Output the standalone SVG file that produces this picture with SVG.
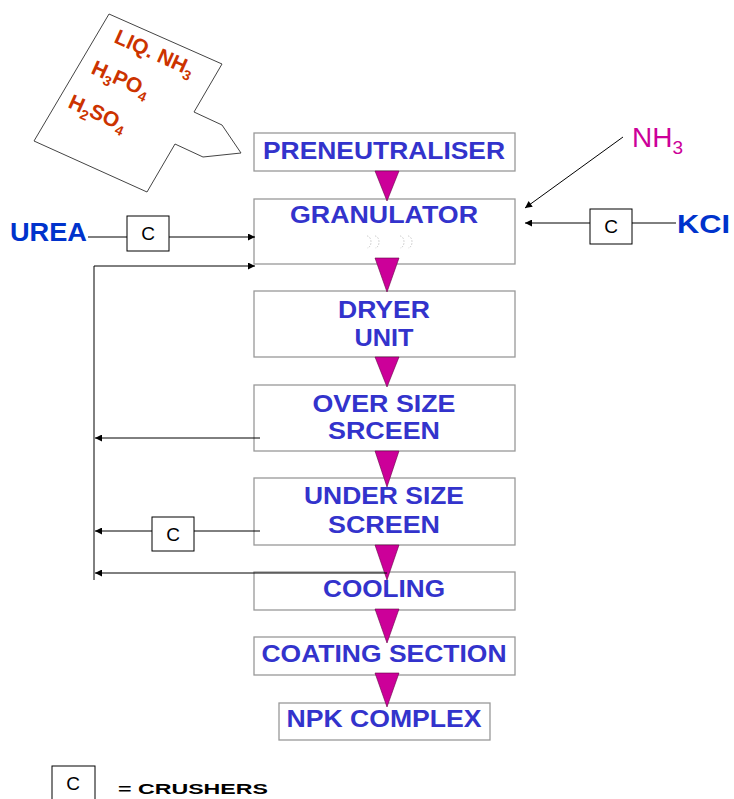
<svg xmlns="http://www.w3.org/2000/svg" width="734" height="799" viewBox="0 0 734 799">
<style>
.box{fill:#fff;stroke:#999;stroke-width:1.3}
.lbl{font-family:"Liberation Sans",Arial,sans-serif;font-weight:bold;font-size:23px;fill:#3333CC;text-anchor:middle}
.tri{fill:#CC0099;stroke:#660044;stroke-width:0.6}
.ln{fill:none;stroke:#000;stroke-width:1}
.cbox{fill:#fff;stroke:#000;stroke-width:1}
.ct{font-family:"Liberation Sans",Arial,sans-serif;font-size:19px;fill:#000;text-anchor:middle}
.chem{font-family:"Liberation Sans",Arial,sans-serif;font-weight:bold;font-size:21px;fill:#CC3300}
.feed{font-family:"Liberation Sans",Arial,sans-serif;font-weight:bold;font-size:26px;fill:#0033CC}
</style>
<defs>
<marker id="ah" viewBox="0 0 10 10" refX="10" refY="5" markerWidth="9" markerHeight="7" markerUnits="userSpaceOnUse" orient="auto">
<path d="M0,0 L10,5 L0,10 z" fill="#000"/>
</marker>
</defs>

<g id="note">
<polygon points="109,14 222,64 194,112 222,125 241,153 203,157 175,144 147,192 34,141" fill="#fff" stroke="#444" stroke-width="1"/>
<text class="chem" transform="translate(113,42) rotate(24)">LIQ. NH<tspan font-size="14" dy="5">3</tspan></text>
<text class="chem" transform="translate(90,73) rotate(24)">H<tspan font-size="14" dy="5">3</tspan><tspan dy="-5">PO</tspan><tspan font-size="14" dy="5">4</tspan></text>
<text class="chem" transform="translate(67,107) rotate(24)">H<tspan font-size="14" dy="5">2</tspan><tspan dy="-5">SO</tspan><tspan font-size="14" dy="5">4</tspan></text>
</g>

<g id="preneutraliser">
<rect class="box" x="254" y="133" width="261" height="38"/>
<text class="lbl" x="384" y="159" textLength="242" lengthAdjust="spacingAndGlyphs">PRENEUTRALISER</text>
</g>
<g id="granulator">
<rect class="box" x="254" y="199" width="261" height="65"/>
<text class="lbl" x="384" y="223" textLength="188" lengthAdjust="spacingAndGlyphs">GRANULATOR</text>
<path d="M367,236 a4,6 0 0 1 0,12 M375,236 a4,6 0 0 1 0,12 M400,236 a4,6 0 0 1 0,12 M408,236 a4,6 0 0 1 0,12" fill="none" stroke="#bbb" stroke-width="0.8" stroke-dasharray="1.5,1.5"/>
</g>
<g id="dryer">
<rect class="box" x="254" y="291" width="261" height="66"/>
<text class="lbl" x="384" y="318" textLength="92" lengthAdjust="spacingAndGlyphs">DRYER</text>
<text class="lbl" x="384" y="346" textLength="59" lengthAdjust="spacingAndGlyphs">UNIT</text>
</g>
<g id="oversize">
<rect class="box" x="254" y="385" width="261" height="66"/>
<text class="lbl" x="384" y="412" textLength="143" lengthAdjust="spacingAndGlyphs">OVER SIZE</text>
<text class="lbl" x="384" y="439" textLength="112" lengthAdjust="spacingAndGlyphs">SRCEEN</text>
</g>
<g id="undersize">
<rect class="box" x="254" y="478" width="261" height="67"/>
<text class="lbl" x="384" y="504" textLength="160" lengthAdjust="spacingAndGlyphs">UNDER SIZE</text>
<text class="lbl" x="384" y="533" textLength="112" lengthAdjust="spacingAndGlyphs">SCREEN</text>
</g>
<g id="cooling">
<rect class="box" x="254" y="572" width="261" height="38"/>
<text class="lbl" x="384" y="597" textLength="122" lengthAdjust="spacingAndGlyphs">COOLING</text>
</g>
<g id="coating">
<rect class="box" x="254" y="637" width="261" height="38"/>
<text class="lbl" x="384" y="662" textLength="245" lengthAdjust="spacingAndGlyphs">COATING SECTION</text>
</g>
<g id="npk">
<rect class="box" x="279" y="703" width="211" height="37"/>
<text class="lbl" x="384" y="727" textLength="195" lengthAdjust="spacingAndGlyphs">NPK COMPLEX</text>
</g>

<g id="flow-triangles">
<polygon class="tri" points="375,171 399,171 387,201"/>
<polygon class="tri" points="375,258 399,258 387,292"/>
<polygon class="tri" points="375,357 399,357 387,387"/>
<polygon class="tri" points="375,451 399,451 387,487"/>
<polygon class="tri" points="375,545 399,545 387,580"/>
<polygon class="tri" points="375,609 399,609 387,643"/>
<polygon class="tri" points="375,673 399,673 387,707"/>
</g>

<g id="crusher-urea">
<rect class="cbox" x="127" y="216" width="42" height="35"/>
<text class="ct" x="148" y="240">C</text>
</g>
<g id="crusher-kcl">
<rect class="cbox" x="590" y="209" width="42" height="35"/>
<text class="ct" x="611" y="233">C</text>
</g>
<g id="crusher-under">
<rect class="cbox" x="152" y="517" width="42" height="34"/>
<text class="ct" x="173" y="541">C</text>
</g>

<g id="feeds">
<text class="feed" x="10" y="241" textLength="77" lengthAdjust="spacingAndGlyphs">UREA</text>
<text class="feed" x="677" y="233" textLength="53" lengthAdjust="spacingAndGlyphs">KCI</text>
<text x="632" y="147" font-family="Liberation Sans,Arial,sans-serif" font-size="28" fill="#CC0099">NH<tspan font-size="19" dy="7">3</tspan></text>
</g>

<g id="connectors">
<line class="ln" x1="88" y1="237" x2="127" y2="237"/>
<line class="ln" x1="169" y1="237" x2="255" y2="237" marker-end="url(#ah)"/>
<line class="ln" x1="676" y1="223" x2="632" y2="223"/>
<line class="ln" x1="590" y1="223" x2="525" y2="223" marker-end="url(#ah)"/>
<line class="ln" x1="623" y1="137" x2="525" y2="208" stroke="#333" marker-end="url(#ah)"/>
<polyline class="ln" points="94,580 94,266 255,266" marker-end="url(#ah)"/>
<line class="ln" x1="260" y1="438" x2="95" y2="438" marker-end="url(#ah)"/>
<line class="ln" x1="260" y1="531" x2="194" y2="531"/>
<line class="ln" x1="152" y1="531" x2="95" y2="531" marker-end="url(#ah)"/>
<line class="ln" x1="387" y1="573" x2="95" y2="573" marker-end="url(#ah)"/>
</g>

<g id="legend">
<rect class="cbox" x="52" y="766" width="43" height="40"/>
<text class="ct" x="73" y="790">C</text>
<text x="118" y="794" font-family="Liberation Sans,Arial,sans-serif" font-weight="bold" font-size="15" fill="#000" textLength="150" lengthAdjust="spacingAndGlyphs">= CRUSHERS</text>
</g>
</svg>
